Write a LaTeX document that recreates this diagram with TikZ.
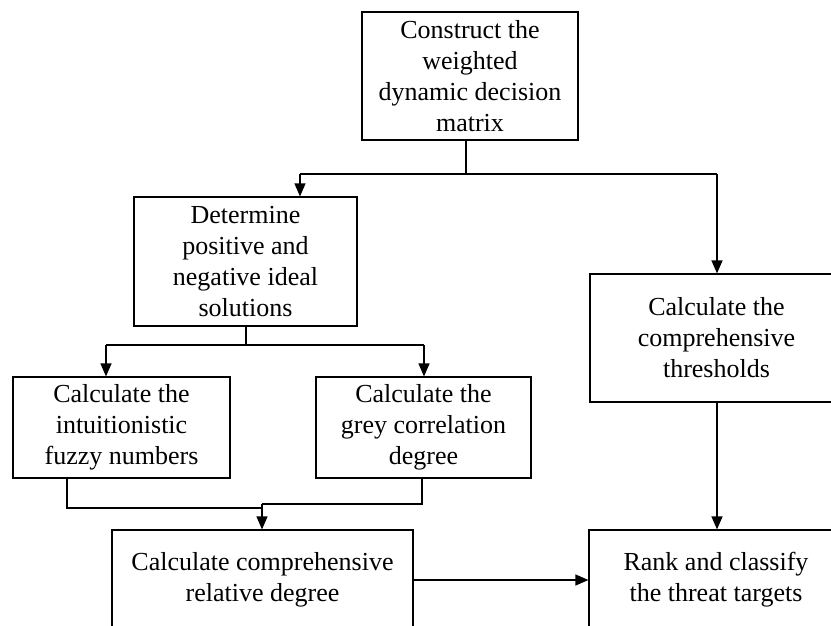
\documentclass[tikz,border=0pt]{standalone}
\usepackage{fontspec}
\setmainfont{Liberation Serif}
\usetikzlibrary{arrows.meta}
\begin{document}
\begin{tikzpicture}[x=1pt,y=-1pt,
  box/.style={draw, line width=1.2pt, rectangle, inner sep=0pt, align=center,
    font=\fontsize{26}{31}\selectfont},
  conn/.style={line width=1.2pt},
  arr/.style={line width=1.2pt, -{Triangle[length=13pt,width=11pt]}}]
\useasboundingbox (0,0) rectangle (831,625);
\clip (0,0) rectangle (831,625);
\fill[white] (0,0) rectangle (831,625);

\node[box, minimum width=216pt, minimum height=128pt] (A) at (470,76)
  {Construct the\\weighted\\dynamic decision\\matrix};
\node[box, minimum width=223pt, minimum height=129pt] (B) at (245.5,261.5)
  {Determine\\positive and\\negative ideal\\solutions};
\node[box, minimum width=253pt, minimum height=128pt] (C) at (716.5,338)
  {Calculate the\\comprehensive\\thresholds};
\node[box, minimum width=217pt, minimum height=101pt] (D) at (121.5,427.5)
  {Calculate the\\intuitionistic\\fuzzy numbers};
\node[box, minimum width=215pt, minimum height=101pt] (E) at (423.5,427.5)
  {Calculate the\\grey correlation\\degree};
\node[box, minimum width=301pt, minimum height=100pt] (F) at (262.5,580)
  {Calculate comprehensive\\relative degree};
\node[box, minimum width=254pt, minimum height=100pt] (G) at (716,580)
  {Rank and classify\\the threat targets};

% A -> B, C
\coordinate (a1) at (466,174);
\draw[conn] ([xshift=-4pt]A.south) -- (a1);
\draw[conn] (a1) -- (300,174) coordinate (a2);
\draw[conn] (a1) -- (717,174) coordinate (a3);
\draw[arr] (a2) -- (a2 |- B.north);
\draw[arr] (a3) -- (a3 |- C.north);

% B -> D, E
\coordinate (b1) at (246,345);
\draw[conn] ([xshift=0.5pt]B.south) -- (b1);
\draw[conn] (b1) -- (106,345) coordinate (b2);
\draw[conn] (b1) -- (424,345) coordinate (b3);
\draw[arr] (b2) -- (b2 |- D.north);
\draw[arr] (b3) -- (b3 |- E.north);

% D, E -> F
\coordinate (j) at (262,504);
\draw[conn] ([xshift=-54.5pt]D.south) |- (262,508);
\draw[conn] ([xshift=-1.5pt]E.south) |- (j);
\draw[arr] (j) -- (j |- F.north);

% C -> G
\draw[arr] ([xshift=0.5pt]C.south) -- ([xshift=1pt]G.north);

% F -> G
\draw[arr] (F.east) -- (F.east -| G.west);
\end{tikzpicture}
\end{document}
